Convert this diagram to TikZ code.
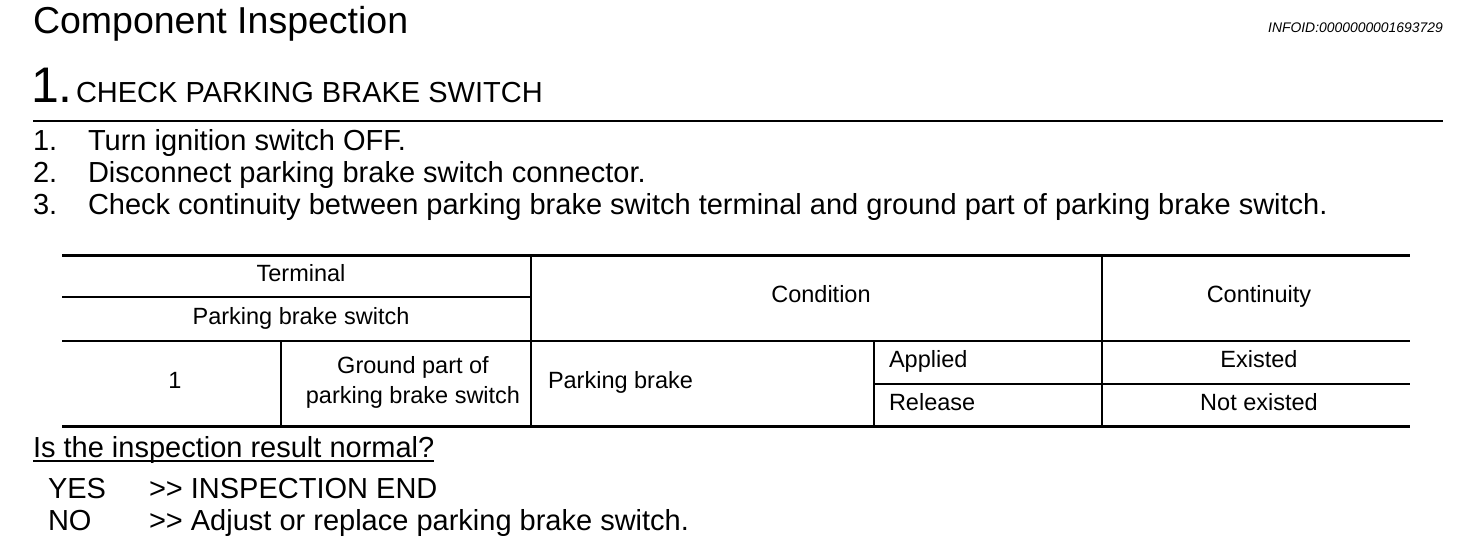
\documentclass[tikz,border=0pt]{standalone}
\usepackage{fontspec}
\setmainfont{Liberation Sans}
\begin{document}
\begin{tikzpicture}[x=1pt,y=-1pt,
  lbl/.style={inner sep=0pt, outer sep=0pt, anchor=base west},
  body/.style={lbl, font=\fontsize{29}{32}\selectfont},
  cell/.style={inner sep=0pt, outer sep=0pt, anchor=base, font=\fontsize{23.5}{27}\selectfont},
  cellw/.style={inner sep=0pt, outer sep=0pt, anchor=base west, font=\fontsize{23.5}{27}\selectfont},
  thick rule/.style={line width=3pt},
  thin rule/.style={line width=1.5pt}]
\useasboundingbox (0,0) rectangle (1472,544);
% header
\node[lbl, font=\fontsize{37.5}{40}\selectfont] (title) at (33,33) {Component Inspection};
\node[inner sep=0pt, anchor=base east, font=\itshape\fontsize{13.9}{15}\selectfont] (info) at (1443,32) {INFOID:0000000001693729};
\node[lbl, font=\fontsize{50}{54}\selectfont] (num) at (31,102) {1.};
\node[lbl, font=\fontsize{29}{32}\selectfont] (head) at (76,102) {CHECK PARKING BRAKE SWITCH};
\coordinate (rl) at (33,121);
\coordinate (rr) at (1443,121);
\draw[line width=2.2pt] (rl) -- (rr);
% steps
\node[body] (n1) at (33,150) {1.};
\node[body] (s1) at (88,150) {Turn ignition switch OFF.};
\node[body] (n2) at (33,182) {2.};
\node[body] (s2) at (88,182) {Disconnect parking brake switch connector.};
\node[body] (n3) at (33,214) {3.};
\node[body] (s3) at (88,214) {Check continuity between parking brake switch terminal and ground part of parking brake switch.};
% table grid
\coordinate (tl) at (62,255); \coordinate (tr) at (1410,255);
\coordinate (bl) at (62,426); \coordinate (br) at (1410,426);
\draw[thick rule] (tl) -- (tr);
\draw[thick rule] (bl) -- (br);
\draw[thin rule] (62,297) -- (531,297);
\draw[thin rule] (62,341) -- (1410,341);
\draw[thin rule] (874,384) -- (1410,384);
\draw[thin rule] (531,255) -- (531,426);
\draw[thin rule] (1102,255) -- (1102,426);
\draw[thin rule] (281,341) -- (281,426);
\draw[thin rule] (874,341) -- (874,426);
% table text
\node[cell] (terminal) at (301,281) {Terminal};
\node[cell] (pbs) at (301,324) {Parking brake switch};
\node[cell] (cond) at (821,302) {Condition};
\node[cell] (cont) at (1259,302) {Continuity};
\node[cell] (one) at (175,388) {1};
\node[cell] (gp1) at (413,373) {Ground part of};
\node[cell] (gp2) at (413,403) {parking brake switch};
\node[cellw] (pb) at (548,388) {Parking brake};
\node[cellw] (app) at (889,367) {Applied};
\node[cellw] (rel) at (889,410) {Release};
\node[cell] (ex) at (1259,367) {Existed};
\node[cell] (nex) at (1259,410) {Not existed};
% result
\node[body] (q) at (33,457) {Is the inspection result normal?};
\draw[line width=1.5pt] ([yshift=-4pt]q.base west) -- ([yshift=-4pt]q.base east);
\node[body] (yes) at (48,498) {YES};
\node[body] (yesa) at (149,498) {>{}> INSPECTION END};
\node[body] (no) at (48,530) {NO};
\node[body] (noa) at (149,530) {>{}> Adjust or replace parking brake switch.};
\end{tikzpicture}
\end{document}
